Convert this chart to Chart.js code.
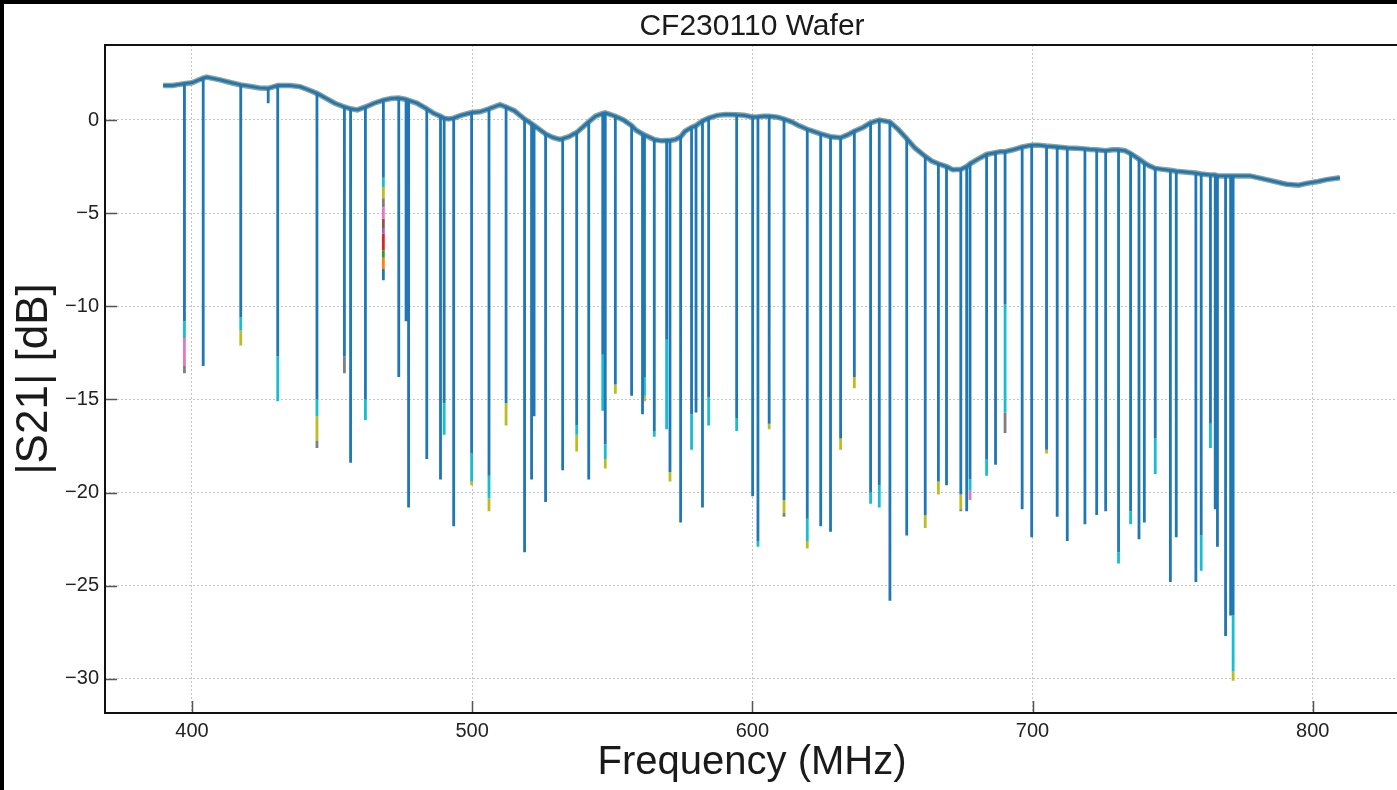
<!DOCTYPE html>
<html>
<head>
<meta charset="utf-8">
<script src="https://cdn.jsdelivr.net/npm/chart.js@4.4.1/dist/chart.umd.min.js"></script>
<style>
  html, body { margin: 0; padding: 0; width: 1397px; height: 790px; overflow: hidden; background: #fff; }
  #wrap { position: absolute; left: 0; top: 0; width: 1402px; height: 790px; }
  .edge { position: absolute; background: #000; }
</style>
</head>
<body>
<div id="wrap"><canvas id="myChart" width="1402" height="790"></canvas></div>
<div class="edge" style="left:0;top:0;width:1397px;height:4px"></div>
<div class="edge" style="left:0;top:0;width:4px;height:790px"></div>
<script>
// sweep samples: frequency (MHz), baseline |S21| (dB), resonance dip bottom (dB, null = no dip)
const freqs = [389.7, 393.0, 395.0, 397.3, 400.0, 404.0, 405.2, 410.0, 414.0, 417.4,
  421.0, 424.0, 427.2, 430.6, 435.0, 438.5, 441.0, 444.6, 448.0, 451.0,
  454.4, 456.6, 459.0, 461.9, 465.0, 468.3, 471.0, 473.8, 476.4, 477.3,
  480.2, 483.8, 486.0, 488.7, 490.0, 491.5, 493.4, 496.0, 499.8, 502.8,
  506.0, 509.9, 512.1, 515.0, 518.7, 521.2, 522.1, 526.2, 529.0, 531.3,
  532.3, 534.5, 537.3, 541.6, 544.0, 546.6, 547.5, 551.1, 554.0, 556.9,
  558.5, 560.8, 561.5, 565.0, 567.5, 569.4, 570.6, 572.5, 574.4, 576.0,
  578.3, 579.9, 582.2, 584.4, 587.5, 590.5, 594.4, 597.0, 600.1, 602.0,
  604.0, 606.0, 609.0, 611.3, 614.0, 616.5, 619.6, 621.5, 624.4, 627.9,
  631.5, 634.0, 636.4, 639.5, 642.2, 645.3, 647.0, 649.1, 652.0, 655.1,
  658.0, 661.7, 664.0, 666.4, 669.3, 671.5, 674.4, 676.5, 677.7, 680.5,
  683.6, 686.8, 688.5, 690.2, 693.0, 696.3, 699.7, 702.0, 705.0, 708.8,
  712.4, 715.5, 718.7, 720.5, 722.9, 726.1, 728.5, 730.7, 733.0, 735.0,
  738.0, 739.9, 741.5, 743.8, 746.5, 749.2, 751.3, 755.0, 758.3, 760.2,
  763.5, 765.2, 766.0, 768.9, 770.7, 771.6, 774.0, 777.6, 783.5, 790.7,
  795.0, 797.8, 802.0, 804.9, 809.7];
const levels = [1.85, 1.85, 1.9, 1.95, 2.0, 2.25, 2.3, 2.15, 2.0, 1.88,
  1.8, 1.72, 1.7, 1.85, 1.85, 1.79, 1.65, 1.43, 1.15, 0.9,
  0.7, 0.6, 0.54, 0.7, 0.9, 1.07, 1.15, 1.18, 1.1, 1.05,
  0.91, 0.6, 0.38, 0.2, 0.1, 0.05, 0.1, 0.25, 0.4, 0.44,
  0.6, 0.82, 0.7, 0.5, 0.05, -0.2, -0.3, -0.75, -0.95, -1.04,
  -1.0, -0.9, -0.67, -0.1, 0.2, 0.35, 0.38, 0.2, 0.0, -0.3,
  -0.55, -0.75, -0.8, -1.05, -1.12, -1.1, -1.1, -1.05, -0.9, -0.6,
  -0.4, -0.3, -0.05, 0.1, 0.25, 0.3, 0.28, 0.25, 0.16, 0.17,
  0.2, 0.2, 0.15, 0.05, -0.1, -0.3, -0.5, -0.6, -0.75, -0.9,
  -0.95, -0.8, -0.6, -0.4, -0.15, 0.0, -0.05, -0.11, -0.5, -1.0,
  -1.5, -1.95, -2.2, -2.35, -2.5, -2.67, -2.65, -2.5, -2.35, -2.1,
  -1.85, -1.75, -1.7, -1.7, -1.6, -1.45, -1.35, -1.35, -1.4, -1.45,
  -1.5, -1.52, -1.55, -1.58, -1.6, -1.65, -1.6, -1.6, -1.65, -1.8,
  -2.1, -2.3, -2.45, -2.6, -2.65, -2.7, -2.75, -2.8, -2.85, -2.9,
  -2.95, -2.95, -3.0, -3.0, -3.0, -3.0, -3.0, -3.0, -3.2, -3.45,
  -3.5, -3.4, -3.3, -3.2, -3.1];
const depths = [null, null, null, -10.8, null, -13.2, null, null, null, -10.6,
  null, null, 0.9, -12.7, null, null, null, -15.0, null, null,
  -12.7, -18.4, null, -15.0, null, -3.1, null, -13.8, -10.8, -20.8,
  null, -18.2, null, -19.3, -15.2, null, -21.8, null, -17.9, null,
  -19.1, null, -15.2, null, -23.2, -19.3, -15.9, -20.5, null, null,
  -18.8, null, -16.4, -19.3, null, -12.6, -17.4, -14.2, null, -14.8,
  null, -15.8, -13.8, -16.7, null, -11.8, -18.9, null, -21.6, null,
  -15.8, -15.7, -20.8, -14.9, null, null, -16.0, null, -20.2, -22.6,
  null, -16.3, null, -20.4, null, null, -21.4, null, -21.8, -22.1,
  -17.1, null, -13.8, null, -20.0, -19.6, null, -25.8, null, -22.3,
  null, -21.2, null, -19.4, -19.6, null, -20.1, -21.0, -19.3, null,
  -18.2, -18.5, null, -9.9, null, -20.9, -22.4, null, -17.7, -21.3,
  -22.6, null, -21.7, null, -21.2, -21.0, null, -23.2, null, -21.0,
  -22.5, -21.6, null, -17.1, null, -24.8, -22.4, null, -24.8, -22.3,
  -16.3, -20.9, -22.9, -27.7, -26.6, -26.6, null, null, null, null,
  null, null, null, null, null];

// other sweeps that dip deeper than the top (blue) trace: colour stack below each dip
const tipFreqs = [397.3, 417.4, 430.6, 444.6, 454.4, 461.9, 468.3, 490.0, 499.8, 506.0,
  512.1, 537.3, 546.6, 547.5, 551.1, 561.5, 565.0, 569.4, 570.6, 578.3,
  584.4, 594.4, 602.0, 606.0, 611.3, 619.6, 631.5, 636.4, 642.2, 645.3,
  661.7, 666.4, 674.4, 677.7, 683.6, 690.2, 705.0, 730.7, 735.0, 743.8,
  760.2, 763.5, 771.6];
const tipColors = [['cyan', 'pink', 'gray'], ['cyan', 'olive'], ['cyan'], ['cyan', 'olive', 'gray'], ['gray'],
  ['cyan'], ['cyan', 'olive', 'gray', 'pink', 'brown', 'purple', 'red', 'green', 'orange', 'blue'],
  ['cyan'], ['cyan', 'olive'], ['cyan', 'olive'],
  ['olive'], ['cyan', 'olive'], ['cyan'], ['cyan', 'olive'], ['olive'], ['cyan', 'olive'], ['cyan'], ['cyan'], ['olive'], ['cyan'],
  ['cyan'], ['cyan'], ['cyan'], ['olive'], ['olive', 'gray'], ['cyan', 'olive'], ['olive'], ['olive'], ['cyan'], ['cyan'],
  ['olive'], ['olive'], ['olive', 'gray'], ['cyan', 'pink'], ['cyan'], ['cyan', 'gray'], ['olive'], ['cyan'], ['cyan'], ['cyan'],
  ['cyan'], ['cyan'], ['cyan', 'olive']];
const tipDepths = [[-11.7, -13.2, -13.6], [-11.3, -12.1], [-15.1], [-15.9, -17.2, -17.6], [-13.6],
  [-16.1], [-3.6, -4.2, -4.7, -5.3, -5.8, -6.1, -7.0, -7.4, -8.0, -8.6],
  [-16.9], [-19.4, -19.6], [-20.3, -21.0],
  [-16.4], [-16.9, -17.8], [-15.6], [-18.2, -18.7], [-14.7], [-14.8, -15.1], [-17.0], [-16.6], [-19.4], [-17.7],
  [-16.4], [-16.7], [-22.9], [-16.6], [-21.1, -21.3], [-22.6, -23.0], [-17.7], [-14.4], [-20.6], [-20.8],
  [-21.9], [-20.1], [-20.9, -21.0], [-19.9, -20.4], [-19.1], [-15.7, -16.8], [-17.9], [-23.8], [-21.7], [-19.0],
  [-24.2], [-17.6], [-29.6, -30.1]];

const palette = {
  blue: '#1f77b4', orange: '#ff7f0e', green: '#2ca02c', red: '#d62728', purple: '#9467bd',
  brown: '#8c564b', pink: '#e377c2', gray: '#7f7f7f', olive: '#bcbd22', cyan: '#17becf'
};

const xTicks = [400, 500, 600, 700, 800];
const yTicks = [-30, -25, -20, -15, -10, -5, 0];

const FONT = "'Liberation Sans', Arial, sans-serif";

// main trace: baseline with a down-and-back stroke at every resonance
let mainPts = [];
freqs.forEach((f, i) => {
  mainPts.push({x: f, y: levels[i]});
  if (depths[i] !== null) {
    mainPts.push({x: f, y: depths[i]});
    mainPts.push({x: f, y: levels[i]});
  }
});

const fringePts = freqs.map((f, i) => ({x: f, y: levels[i]}));

// one dataset per colour for the deeper tips
let tipSets = {};
tipFreqs.forEach((f, i) => {
  let start = depths[freqs.indexOf(f)];
  tipColors[i].forEach((c, j) => {
    const end = tipDepths[i][j];
    if (!tipSets[c]) tipSets[c] = [];
    tipSets[c].push({x: f, y: start}, {x: f, y: end}, {x: f, y: null});
    start = end;
  });
});

let datasets = [{
  data: mainPts, borderColor: palette.blue, borderWidth: 2.8, pointRadius: 0,
  borderJoinStyle: 'bevel', tension: 0
}];
Object.keys(tipSets).forEach(c => {
  datasets.push({
    data: tipSets[c], borderColor: palette[c], borderWidth: 2.8, pointRadius: 0,
    spanGaps: false, tension: 0
  });
});
// the other overlapping sweeps show only as a fuzzy edge round the baseline
datasets.push({
  data: fringePts, borderColor: 'rgba(95,120,105,0.7)', borderWidth: 5.5, pointRadius: 0, tension: 0
});

// inward ticks and black frame like the matplotlib axes
const framePlugin = {
  id: 'frame',
  afterDatasetsDraw(chart) {
    const {ctx, chartArea: a, scales: {x, y}} = chart;
    ctx.save();
    ctx.strokeStyle = '#555';
    ctx.lineWidth = 1.5;
    ctx.beginPath();
    xTicks.forEach(v => {
      const px = Math.round(x.getPixelForValue(v)) + 0.5;
      ctx.moveTo(px, a.bottom);
      ctx.lineTo(px, a.bottom - 12);
    });
    yTicks.forEach(v => {
      const py = Math.round(y.getPixelForValue(v)) + 0.5;
      ctx.moveTo(a.left, py);
      ctx.lineTo(a.left + 12, py);
    });
    ctx.stroke();
    ctx.strokeStyle = '#111';
    ctx.lineWidth = 2;
    ctx.strokeRect(a.left, a.top, a.right - a.left, a.bottom - a.top);
    ctx.restore();
  }
};

const keepTicks = list => scale => {
  scale.ticks = list.map(v => ({value: v}));
};

const ctx = document.getElementById('myChart').getContext('2d');
const myChart = new Chart(ctx, {
  type: 'line',
  data: {datasets: datasets},
  options: {
    responsive: false,
    animation: false,
    events: [],
    layout: {padding: {left: 0, right: 3, top: 0, bottom: 0}},
    plugins: {
      legend: {display: false},
      tooltip: {enabled: false},
      title: {
        display: true,
        fullSize: false,
        text: 'CF230110 Wafer',
        color: '#1a1a1a',
        font: {family: FONT, size: 30, weight: 'normal', lineHeight: 1},
        padding: {top: 12, bottom: 3}
      }
    },
    scales: {
      x: {
        type: 'linear',
        min: 368.95,
        max: 830.8,
        afterBuildTicks: keepTicks(xTicks),
        afterFit: s => { s.height = 77; },
        grid: {color: '#c4c4c4', lineWidth: 1, drawTicks: false},
        border: {display: false, dash: [2, 2]},
        ticks: {color: '#222', font: {family: FONT, size: 20}, padding: 6, maxRotation: 0},
        title: {
          display: true, text: 'Frequency (MHz)', color: '#1a1a1a',
          font: {family: FONT, size: 40}, padding: {top: 0, bottom: 3}
        }
      },
      y: {
        min: -31.83,
        max: 4.025,
        afterBuildTicks: keepTicks(yTicks),
        afterFit: s => { s.width = 105; },
        grid: {color: '#c4c4c4', lineWidth: 1, drawTicks: false},
        border: {display: false, dash: [2, 2]},
        ticks: {
          color: '#222', font: {family: FONT, size: 20}, padding: 6,
          callback: v => v < 0 ? '\u2212' + Math.abs(v) : String(v)
        },
        title: {
          display: true, text: '|S21| [dB]', color: '#1a1a1a',
          font: {family: FONT, size: 44}, padding: {top: 8, bottom: 0}
        }
      }
    }
  },
  plugins: [framePlugin]
});
</script>
</body>
</html>
